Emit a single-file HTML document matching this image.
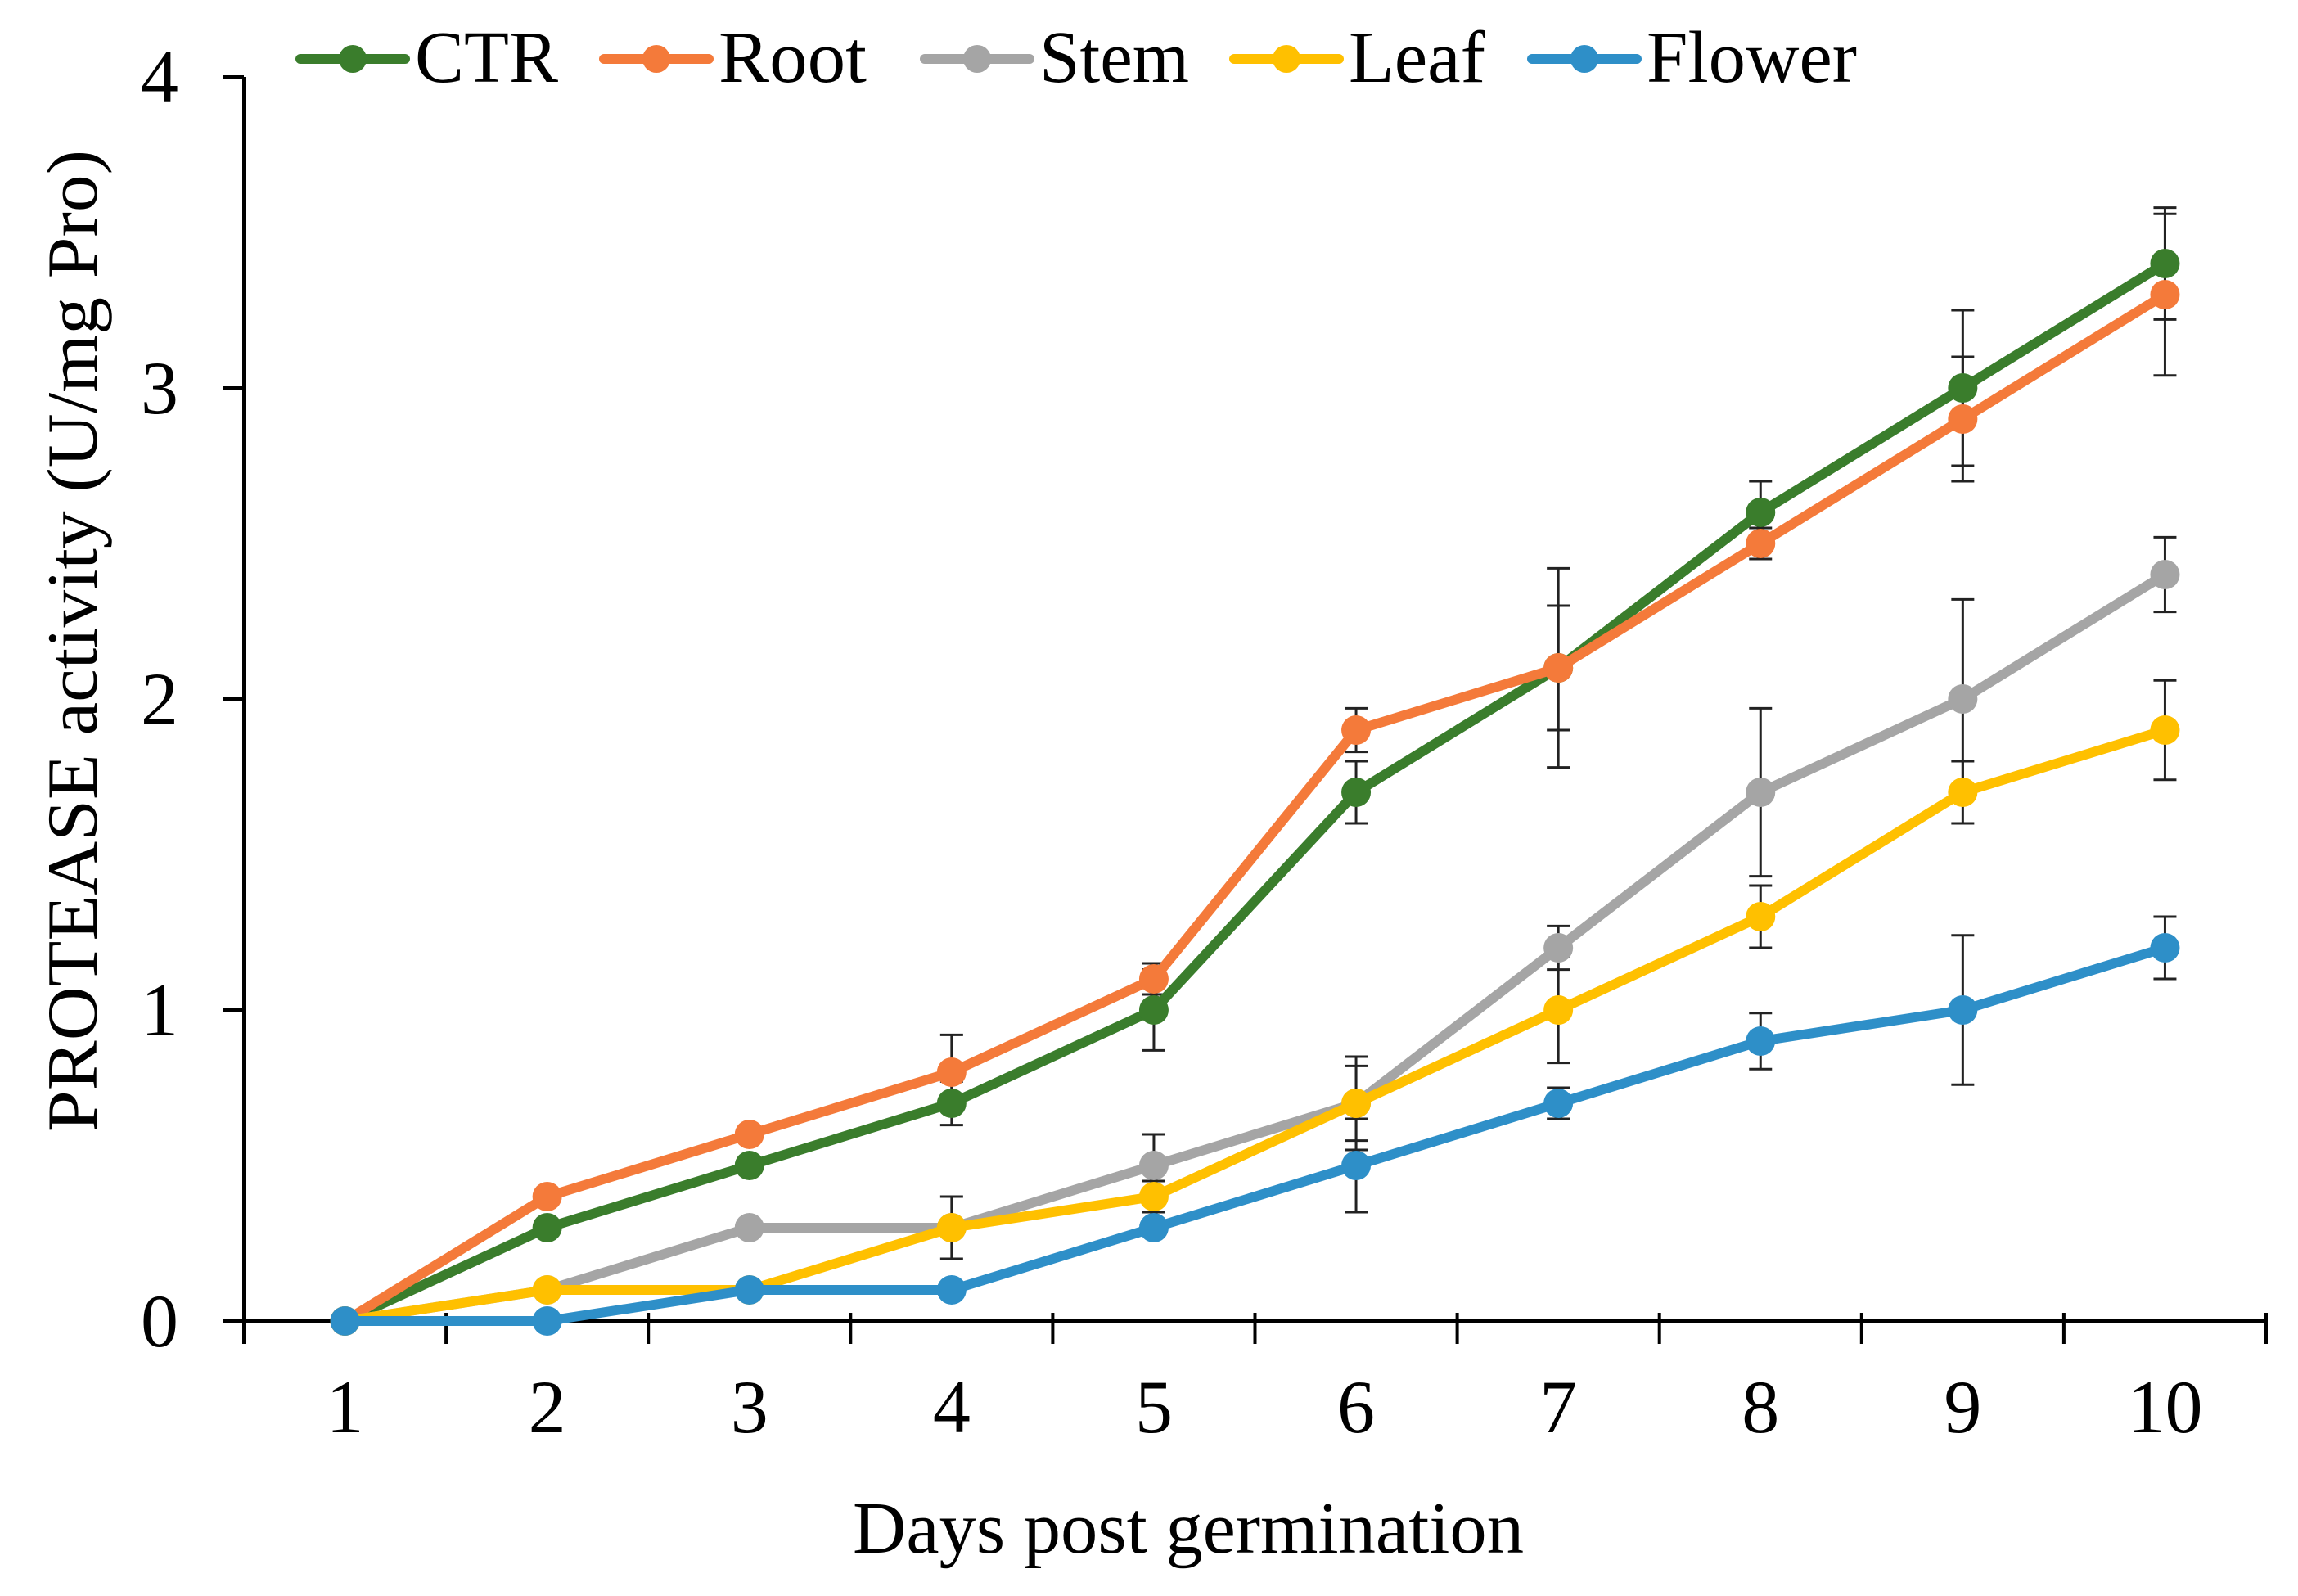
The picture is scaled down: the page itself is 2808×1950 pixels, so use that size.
<!DOCTYPE html>
<html><head><meta charset="utf-8"><style>html,body{margin:0;padding:0;background:#fff}svg{display:block}text{font-family:"Liberation Serif",serif;fill:#000}</style></head>
<body>
<svg id="chart" width="2808" height="1950" viewBox="0 0 2808 1950" xmlns="http://www.w3.org/2000/svg">
<g id="grid"></g>
<g id="series"></g>
<g id="legend"></g>
<text x="1452" y="1897" font-size="90" text-anchor="middle" textLength="820" lengthAdjust="spacingAndGlyphs">Days post germination</text>
<text transform="translate(118,783) rotate(-90)" font-size="88" text-anchor="middle" textLength="1200" lengthAdjust="spacingAndGlyphs">PROTEASE activity (U/mg Pro)</text>
</svg>
<script>
const days = ['1','2','3','4','5','6','7','8','9','10'];
const yTicks = [0,1,2,3,4];
const seriesNames = ['CTR','Root','Stem','Leaf','Flower'];
const seriesColors = ['#3a7d2c','#f47a3a','#a5a5a5','#ffc000','#2e8fc8'];
const ctr = [0,0.3,0.5,0.7,1.0,1.7,2.1,2.6,3.0,3.4];
const ctrErr = [0,0,0,0.07,0.13,0.1,0.2,0.1,0.25,0.18];
const root = [0,0.4,0.6,0.8,1.1,1.9,2.1,2.5,2.9,3.3];
const rootErr = [0,0,0,0.12,0.05,0.07,0.32,0.05,0.2,0.26];
const stem = [0,0.1,0.3,0.3,0.5,0.7,1.2,1.7,2.0,2.4];
const stemErr = [0,0,0,0,0.1,0.15,0.07,0.27,0.32,0.12];
const leaf = [0,0.1,0.1,0.3,0.4,0.7,1.0,1.3,1.7,1.9];
const leafErr = [0,0,0,0.1,0.05,0.12,0.17,0.1,0.1,0.16];
const flower = [0,0,0.1,0.1,0.3,0.5,0.7,0.9,1.0,1.2];
const flowerErr = [0,0,0,0,0,0.15,0.05,0.09,0.24,0.1];
const legendLineX = [367,738,1130,1508,1872];
const legendTextW = [175,181,183,167,257];

const NS='http://www.w3.org/2000/svg';
const X0=298, BAND=247.1, Y0=1614, UNIT=380;
const xs=i=>X0+BAND*(i+0.5);
const ys=v=>Y0-v*UNIT;
function mk(tag,attrs,parent){const e=document.createElementNS(NS,tag);for(const k in attrs)e.setAttribute(k,attrs[k]);parent.appendChild(e);return e;}
const grid=document.getElementById('grid');
const ser=document.getElementById('series');
const leg=document.getElementById('legend');
let a=mk('line',{x1:X0,y1:ys(4),x2:X0,y2:Y0+28,stroke:'#000','stroke-width':4},grid);


a=mk('line',{x1:X0-26,y1:Y0,x2:X0+BAND*days.length,y2:Y0,stroke:'#000','stroke-width':4},grid);


yTicks.forEach(t=>{
  const l=mk('line',{x1:X0-26,y1:ys(t),x2:X0,y2:ys(t),stroke:'#000','stroke-width':4},grid);
  
  
  const tx=mk('text',{x:218,y:ys(t)+31,'font-size':92,'text-anchor':'end'},grid);
  tx.textContent=String(t);
  
  
});
days.forEach((d,i)=>{
  const tx0=X0+BAND*(i+1);
  const l=mk('line',{x1:tx0,y1:Y0-10,x2:tx0,y2:Y0+28,stroke:'#000','stroke-width':4},grid);
  
  
  const tx=mk('text',{x:xs(i),y:1750,'font-size':92,'text-anchor':'middle'},grid);
  tx.textContent=d;
  
  
});
const allVals=[ctr,root,stem,leaf,flower];
const allErr=[ctrErr,rootErr,stemErr,leafErr,flowerErr];
allVals.forEach((vals,s)=>{
  vals.forEach((v,i)=>{
    const e=allErr[s][i]; if(!e) return;
    const g=mk('g',{stroke:'#222','stroke-width':3},ser);
    
    
    mk('line',{x1:xs(i),y1:ys(v-e),x2:xs(i),y2:ys(v+e)},g);
    mk('line',{x1:xs(i)-14,y1:ys(v-e),x2:xs(i)+14,y2:ys(v-e)},g);
    mk('line',{x1:xs(i)-14,y1:ys(v+e),x2:xs(i)+14,y2:ys(v+e)},g);
  });
});
allVals.forEach((vals,s)=>{
  const g=mk('g',{},ser);
  
  
  const p=mk('polyline',{points:vals.map((v,i)=>xs(i)+','+ys(v)).join(' '),fill:'none',stroke:seriesColors[s],'stroke-width':12,'stroke-linejoin':'round'},g);
  
  
  vals.forEach((v,i)=>{
    const c=mk('circle',{cx:xs(i),cy:ys(v),r:18,fill:seriesColors[s]},g);
    
    
  });
});
seriesNames.forEach((n,s)=>{
  const g=mk('g',{},leg);
  
  
  const lx=legendLineX[s];
  mk('line',{x1:lx,y1:72,x2:lx+128,y2:72,stroke:seriesColors[s],'stroke-width':12,'stroke-linecap':'round'},g);
  mk('circle',{cx:lx+64,cy:72,r:17,fill:seriesColors[s]},g);
  const t=mk('text',{x:lx+140,y:100,'font-size':90,textLength:legendTextW[s],lengthAdjust:'spacingAndGlyphs'},g);
  t.textContent=n;
});
</script>
</body></html>
